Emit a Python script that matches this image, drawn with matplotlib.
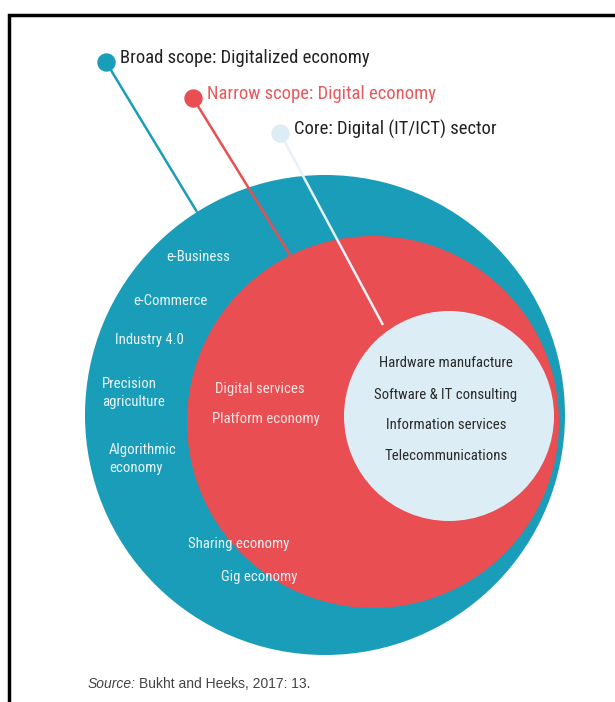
import numpy as np
import matplotlib.pyplot as plt
from matplotlib.patches import Circle

# scope circles, in pixel coordinates of the page (y down)
scope_names = ['Broad scope: Digitalized economy',
               'Narrow scope: Digital economy',
               'Core: Digital (IT/ICT) sector']
scope_colors = ['#1a9db8', '#e84e52', '#dcedf5']
scope_text_colors = ['#222222', '#e8595d', '#222222']
circle_x = [325, 373, 449]
circle_y = [415, 422, 416]
circle_r = [240, 186, 105]
dot_x = [106, 193, 280]
dot_y = [62, 98, 133]
line_end_x = [197, 290, 383]
line_end_y = [212, 255, 325]
line_colors = ['#1a9db8', '#e84e52', '#e6f2f8']

broad_labels = ['e-Business', 'e-Commerce', 'Industry 4.0']
broad_label_x = [198, 170, 149]
broad_label_y = [257, 301, 340]
broad_block_labels = ['Precision\nagriculture', 'Algorithmic\neconomy']
broad_block_x = [102, 109]
broad_block_y = [393, 459]
narrow_labels = ['Digital services', 'Platform economy']
narrow_label_x = [260, 266]
narrow_label_y = [389, 419]
edge_labels = ['Sharing economy', 'Gig economy']
edge_label_x = [239, 259]
edge_label_y = [544, 577]
core_labels = ['Hardware manufacture', 'Software & IT consulting',
               'Information services', 'Telecommunications']
core_label_y = [363, 395, 425, 456]

font = ['Liberation Sans Narrow', 'DejaVu Sans Condensed', 'Roboto Condensed',
        'Liberation Sans']
inner_size = 10.6

fig = plt.figure(figsize=(6.15, 7.02), dpi=100)
ax = fig.add_axes([0, 0, 1, 1])
ax.set_xlim(0, 615)
ax.set_ylim(702, 0)
ax.set_aspect('equal')
ax.axis('off')

# page frame (top and left only)
ax.plot([9, 9, 615], [702, 15, 15], color='black', lw=2.5, solid_joinstyle='miter')

for i in range(3):
    ax.add_patch(Circle((circle_x[i], circle_y[i]), circle_r[i],
                        facecolor=scope_colors[i], edgecolor='none', zorder=2 + i))
    ax.plot([dot_x[i], line_end_x[i]], [dot_y[i], line_end_y[i]],
            color=line_colors[i], lw=1.8, zorder=2 + i, solid_capstyle='butt')
    ax.scatter([dot_x[i]], [dot_y[i]], s=150, color=scope_colors[i], zorder=6)
    ax.text(dot_x[i] + 14, dot_y[i] - 4, scope_names[i], color=scope_text_colors[i],
            fontsize=13.4, family=font, va='center', ha='left', zorder=7)

for lab, x, y in zip(broad_labels, broad_label_x, broad_label_y):
    ax.text(x, y, lab, color='#e8f4f8', fontsize=inner_size, family=font,
            ha='center', va='center', zorder=7)
for lab, x, y in zip(broad_block_labels, broad_block_x, broad_block_y):
    ax.text(x, y, lab, color='#e8f4f8', fontsize=inner_size, family=font,
            ha='left', va='center', linespacing=1.45, zorder=7)
for lab, x, y in zip(narrow_labels, narrow_label_x, narrow_label_y):
    ax.text(x, y, lab, color='#fbe4e4', fontsize=inner_size, family=font,
            ha='center', va='center', zorder=7)
for lab, x, y in zip(edge_labels, edge_label_x, edge_label_y):
    ax.text(x, y, lab, color='#e8f4f8', fontsize=inner_size, family=font,
            ha='center', va='center', zorder=7)
for lab, y in zip(core_labels, core_label_y):
    ax.text(446, y, lab, color='#2a2a2a', fontsize=inner_size, family=font,
            ha='center', va='center', zorder=7)

ax.text(88, 684, 'Source:', style='italic', color='#444444', fontsize=10,
        family=['Liberation Sans', 'DejaVu Sans'], ha='left', va='center')
ax.text(139, 684, 'Bukht and Heeks, 2017: 13.', color='#444444', fontsize=10,
        family=['Liberation Sans', 'DejaVu Sans'], ha='left', va='center')

fig.savefig('out.png', dpi=100)
